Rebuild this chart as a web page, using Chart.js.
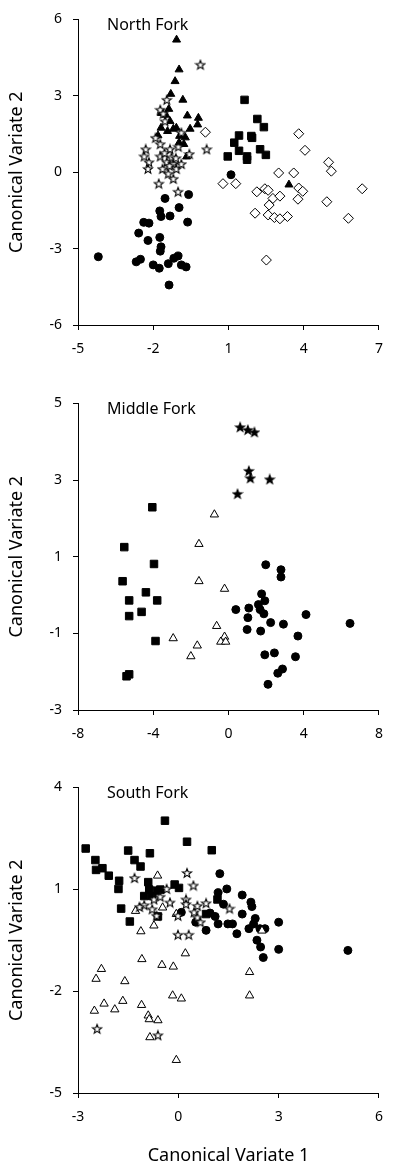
<!DOCTYPE html>
<html>
<head>
<meta charset="utf-8">
<script src="https://cdn.jsdelivr.net/npm/chart.js@4.4.1/dist/chart.umd.min.js"></script>
<style>
    body { margin: 0; background: #fff; }
    #wrap { position: relative; width: 394px; height: 1167px; }
    #wrap canvas { position: absolute; left: 0; }
</style>
</head>
<body>
<div id="wrap">
    <canvas id="north" width="394" height="384" style="top:0"></canvas>
    <canvas id="middle" width="394" height="384" style="top:384px"></canvas>
    <canvas id="south" width="394" height="399" style="top:768px"></canvas>
</div>
<script>
// North Fork
var northTriangles = [[-1.07,5.2],[-0.97,4.03],[-1.13,3.57],[-1.30,3.07],[-0.82,2.84],[-1.38,2.48],[-1.68,2.32],[-0.64,2.22],[-1.33,2.0],[-0.2,2.13],[-0.23,1.87],[-0.53,1.70],[-1.69,1.74],[-1.43,1.61],[-1.08,1.74],[-1.81,1.44],[-0.95,1.42],[-0.72,1.36],[-0.97,1.16],[-0.78,1.10],[-1.2,1.7],[-1.5,2.25],[-0.67,0.61],[3.41,-0.49]];
var northStars = [[-0.12,4.22],[-1.46,2.84],[-1.72,2.45],[-1.6,2.3],[-1.53,2.0],[-1.91,1.35],[-1.72,1.10],[-2.30,0.90],[-2.36,0.62],[-2.17,0.39],[-2.21,0.13],[-1.72,0.62],[-1.63,0.13],[-1.33,0.90],[-1.27,0.58],[-1.46,0.39],[-1.2,0.32],[-1.08,0.13],[-1.40,-0.06],[-1.2,-0.26],[-0.88,0.32],[-0.56,0.71],[0.13,0.90],[-0.88,1.55],[-1.78,-0.45],[-1.01,-0.77],[-1.55,0.75],[-1.35,0.25],[-1.1,0.55],[-1.0,1.0]];
var northCircles = [[1.10,-0.10],[-1.53,-1.03],[-0.59,-0.88],[-0.97,-1.39],[-1.74,-1.52],[-1.69,-1.74],[-1.33,-1.72],[-0.63,-1.96],[-2.38,-1.97],[-2.17,-2.0],[-2.58,-2.39],[-1.74,-2.56],[-2.21,-2.68],[-1.69,-2.93],[-1.72,-3.10],[-4.19,-3.32],[-1.01,-3.29],[-1.18,-3.38],[-2.51,-3.42],[-2.68,-3.52],[-2.0,-3.64],[-1.76,-3.77],[-1.40,-3.59],[-0.88,-3.64],[-0.69,-3.72],[-1.37,-4.43]];
var northSquares = [[1.64,2.84],[2.15,2.09],[2.41,1.77],[1.42,1.44],[1.91,1.42],[1.94,1.35],[1.23,1.16],[1.42,0.84],[1.74,0.62],[1.74,0.49],[0.97,0.62],[2.26,0.90],[2.49,0.68]];
var northDiamonds = [[0.08,1.57],[3.80,1.51],[4.05,0.86],[4.99,0.39],[5.10,0.04],[3.0,-0.03],[3.60,-0.03],[0.78,-0.45],[1.29,-0.45],[6.33,-0.65],[2.13,-0.77],[2.45,-0.65],[2.58,-0.71],[3.80,-0.62],[3.96,-0.75],[2.77,-1.03],[3.05,-0.94],[3.77,-1.06],[4.92,-1.16],[2.62,-1.29],[2.06,-1.61],[2.58,-1.68],[2.83,-1.78],[3.05,-1.83],[3.35,-1.74],[5.78,-1.81],[2.51,-3.45]];

// Middle Fork
var middleStars = [[0.62,4.38],[1.03,4.31],[1.38,4.25],[1.08,3.24],[1.16,3.05],[2.19,3.02],[0.48,2.64]];
var middleSquares = [[-4.05,2.29],[-5.54,1.25],[-3.96,0.81],[-5.63,0.36],[-4.39,0.07],[-5.28,-0.14],[-3.79,-0.14],[-4.62,-0.44],[-5.28,-0.55],[-3.88,-1.20],[-5.42,-2.12],[-5.28,-2.07]];
var middleTriangles = [[-0.75,2.10],[-1.57,1.33],[-1.57,0.36],[-0.21,0.16],[-0.63,-0.81],[-2.94,-1.13],[-0.21,-1.09],[-0.41,-1.22],[-0.15,-1.22],[-1.66,-1.32],[-2.0,-1.60]];
var middleCircles = [[1.98,0.79],[2.79,0.66],[2.79,0.47],[1.76,0.03],[1.93,-0.15],[1.59,-0.25],[1.08,-0.34],[0.39,-0.38],[1.68,-0.38],[1.88,-0.49],[4.12,-0.51],[1.03,-0.59],[2.24,-0.72],[2.92,-0.76],[6.46,-0.74],[0.99,-0.90],[1.71,-0.94],[3.69,-1.07],[1.93,-1.56],[2.44,-1.51],[3.56,-1.61],[2.62,-2.04],[2.87,-1.93],[2.10,-2.33]];

// South Fork
var southSquares = [[-0.40,3.02],[0.26,2.40],[1.0,2.15],[-2.77,2.20],[-1.50,2.14],[-0.85,2.06],[-2.48,1.86],[-1.31,1.86],[-1.13,1.67],[-2.46,1.57],[-2.27,1.62],[-2.08,1.40],[-1.77,1.25],[-1.79,1.01],[-0.90,1.21],[-0.11,1.14],[0.02,1.04],[-0.87,0.99],[-0.64,0.96],[-0.54,0.99],[-1.02,0.80],[-0.78,0.80],[-1.71,0.43],[-1.45,0.05],[1.17,0.70],[0.83,0.27],[-0.61,0.20]];
var southStars = [[-1.31,1.33],[0.26,1.48],[0.45,1.11],[-0.35,1.01],[-0.73,0.70],[-0.54,0.78],[-0.25,0.61],[-1.02,0.53],[-1.16,0.48],[-0.78,0.41],[-0.65,0.22],[0.23,0.70],[0.23,0.56],[0.57,0.51],[0.83,0.59],[0.47,0.32],[0.57,0.17],[1.53,0.43],[-0.01,0.22],[-0.01,-0.34],[0.31,-0.34],[0.66,0.03],[-2.43,-3.11],[-0.61,-3.30]];
var southTriangles = [[-0.62,1.40],[-1.28,0.36],[-0.47,0.46],[-1.12,-0.24],[-0.73,-0.07],[-0.06,0.27],[2.5,-0.22],[0.21,-0.89],[-1.09,-1.06],[-0.49,-1.23],[-0.15,-1.28],[-2.30,-1.35],[-2.46,-1.64],[-1.60,-1.71],[2.13,-1.44],[-0.17,-2.13],[0.09,-2.22],[2.13,-2.13],[-2.51,-2.58],[-2.22,-2.37],[-1.90,-2.54],[-1.66,-2.29],[-1.10,-2.41],[-0.90,-2.72],[-0.87,-2.83],[-0.61,-2.86],[-0.85,-3.36],[-0.06,-4.03]];
var southCircles = [[1.24,1.46],[1.45,1.01],[1.19,0.90],[1.91,0.83],[2.17,0.62],[2.20,0.49],[1.35,0.56],[1.91,0.27],[1.10,0.20],[1.19,-0.02],[1.48,-0.02],[1.62,-0.02],[2.30,0.14],[2.25,-0.02],[2.11,-0.16],[2.44,-0.16],[2.59,-0.16],[3.0,0.03],[0.83,-0.21],[1.75,-0.31],[2.35,-0.50],[2.46,-0.70],[3.0,-0.77],[5.07,-0.80],[2.54,-1.01],[0.09,0.32],[0.52,0.03],[0.95,0.3]];

var FONT = "'Noto Sans', 'DejaVu Sans', sans-serif";

function makeStar(fill) {
    var c = document.createElement("canvas");
    c.width = 12;
    c.height = 12;
    var g = c.getContext("2d");
    g.beginPath();
    for (var i = 0; i < 10; i++) {
        var r = i % 2 ? 2.0 : 4.8;
        var a = -Math.PI / 2 + i * Math.PI / 5;
        g.lineTo(6 + r * Math.cos(a), 6.4 + r * Math.sin(a));
    }
    g.closePath();
    g.fillStyle = fill;
    g.fill();
    g.lineWidth = 1.1;
    g.strokeStyle = "#000";
    g.stroke();
    return c;
}

var openStar = makeStar("#fff");
var blackStar = makeStar("#000");

function toXY(pairs) {
    return pairs.map(function(p) { return {x: p[0], y: p[1]}; });
}

function series(pairs, style, radius, filled) {
    return {
        data: toXY(pairs),
        pointStyle: style,
        pointRadius: radius,
        pointBackgroundColor: filled ? "#000" : "#fff",
        pointBorderColor: "#000",
        pointBorderWidth: 1,
        showLine: false
    };
}

// panel label like "North Fork", drawn inside the plot area
var panelLabel = {
    id: "panelLabel",
    afterDraw: function(chart, args, opts) {
        var ctx = chart.ctx;
        ctx.save();
        ctx.font = "16px " + FONT;
        ctx.fillStyle = "#000";
        ctx.textBaseline = "middle";
        ctx.fillText(opts.text, chart.chartArea.left + 29, chart.chartArea.top + 6);
        ctx.restore();
    }
};

function axis(min, max, step, title, size) {
    return {
        type: "linear",
        min: min,
        max: max,
        ticks: {stepSize: step, color: "#000", padding: 11, font: {family: FONT, size: 14}},
        grid: {drawOnChartArea: false, drawTicks: true, tickLength: 5, color: "#000"},
        border: {display: true, color: "#000", width: 1},
        title: {display: !!title, text: title, color: "#000", font: {family: FONT, size: 18}, padding: {top: 6, bottom: 0}},
        afterFit: function(scale) {
            if (scale.isHorizontal()) {
                scale.height = size;
            } else {
                scale.width = size;
            }
        }
    };
}

function drawPanel(id, label, datasets, xr, yr, xTitle, xHeight) {
    new Chart(document.getElementById(id), {
        type: "scatter",
        data: {datasets: datasets},
        options: {
            responsive: false,
            animation: false,
            devicePixelRatio: 1,
            layout: {padding: {top: 15, right: 4, bottom: 0, left: 0}},
            scales: {
                x: axis(xr[0], xr[1], xr[2], xTitle, xHeight),
                y: axis(yr[0], yr[1], yr[2], "Canonical Variate 2", 78)
            },
            plugins: {legend: {display: false}, tooltip: {enabled: false}, panelLabel: {text: label}}
        },
        plugins: [panelLabel]
    });
}

drawPanel("north", "North Fork", [
    series(northDiamonds, "rectRot", 5, false),
    series(northStars, openStar, 5, false),
    series(northTriangles, "triangle", 4.6, true),
    series(northSquares, "rect", 5.3, true),
    series(northCircles, "circle", 4, true)
], [-5, 7, 3], [-6, 6, 3], "", 59);

drawPanel("middle", "Middle Fork", [
    series(middleStars, blackStar, 5, true),
    series(middleTriangles, "triangle", 4.8, false),
    series(middleSquares, "rect", 5.3, true),
    series(middleCircles, "circle", 4, true)
], [-8, 8, 4], [-3, 5, 2], "", 58);

drawPanel("south", "South Fork", [
    series(southStars, openStar, 5, false),
    series(southTriangles, "triangle", 4.8, false),
    series(southCircles, "circle", 4, true),
    series(southSquares, "rect", 5.3, true)
], [-3, 6, 3], [-5, 4, 3], "Canonical Variate 1", 74);
</script>
</body>
</html>
